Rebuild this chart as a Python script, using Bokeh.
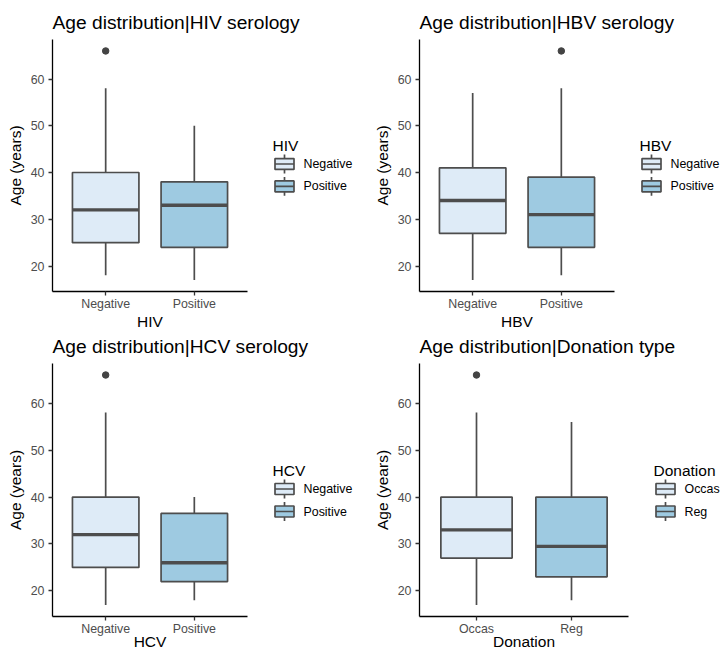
from bokeh.plotting import figure
from bokeh.layouts import column, row
from bokeh.models import Range1d, FixedTicker, Title
from bokeh.core.properties import value
from bokeh.embed import file_html
from bokeh.resources import INLINE

# ---------------- data ----------------
hiv_cats = ["Negative", "Positive"]
hiv_low = [18, 17]
hiv_q1 = [25, 24]
hiv_med = [32, 33]
hiv_q3 = [40, 38]
hiv_high = [58, 50]
hiv_out = [[66], []]

hbv_cats = ["Negative", "Positive"]
hbv_low = [17, 18]
hbv_q1 = [27, 24]
hbv_med = [34, 31]
hbv_q3 = [41, 39]
hbv_high = [57, 58]
hbv_out = [[], [66]]

hcv_cats = ["Negative", "Positive"]
hcv_low = [17, 18]
hcv_q1 = [25, 22]
hcv_med = [32, 26]
hcv_q3 = [40, 36.5]
hcv_high = [58, 40]
hcv_out = [[66], []]

don_cats = ["Occas", "Reg"]
don_low = [17, 18]
don_q1 = [27, 23]
don_med = [33, 29.5]
don_q3 = [40, 40]
don_high = [58, 56]
don_out = [[66], []]

y_ticks = [20, 30, 40, 50, 60]
y_min, y_max = 14.55, 68.45
x_min, x_max = 0.4, 2.6

FILLS = ["#DEEBF7", "#9ECAE1"]
OUT = "#4d4d4d"
LW = 1.7
FONT = "Liberation Sans"

# Arial / Liberation Sans advance widths (per 1000 em) for centring the x titles
_W = {"H": 722, "I": 278, "V": 667, "B": 667, "C": 722, "D": 722, "o": 556,
      "n": 556, "a": 556, "t": 278, "i": 222}


def text_w(s, size):
    return sum(_W.get(ch, 556) for ch in s) / 1000.0 * size


def make_panel(title, var, cats, low, q1, med, q3, high, outs,
               W, H, bl, bt, bb, data_w, xt_standoff):
    fw = W - bl
    fh = H - bt - bb
    sx = (x_max - x_min) / data_w
    sy = (y_max - y_min) / fh
    x_end = x_min + fw * sx

    p = figure(width=W, height=H, output_backend="svg", toolbar_location=None,
               x_range=Range1d(x_min, x_end), y_range=Range1d(y_min, y_max),
               min_border_left=bl, min_border_right=0,
               min_border_top=bt, min_border_bottom=bb)
    p.outline_line_color = None
    p.xgrid.visible = False
    p.ygrid.visible = False
    p.background_fill_color = "white"
    p.border_fill_color = "white"

    # plot title
    p.title.text = title
    p.title.text_font = FONT
    p.title.text_font_size = "19.2px"
    p.title.text_font_style = "normal"
    p.title.text_color = "black"
    p.title.align = "left"
    p.title.vertical_align = "top"
    p.title.text_baseline = "top"
    p.title.standoff = 9
    p.title.offset = 0

    xs = [i + 1 for i in range(len(cats))]
    hw = 0.375
    # whiskers
    p.segment(x0=xs, y0=q3, x1=xs, y1=high, line_color=OUT, line_width=LW)
    p.segment(x0=xs, y0=low, x1=xs, y1=q1, line_color=OUT, line_width=LW)
    # boxes
    p.vbar(x=xs, bottom=q1, top=q3, width=2 * hw, fill_color=FILLS,
           line_color=OUT, line_width=LW)
    # medians
    p.segment(x0=[x - hw for x in xs], y0=med, x1=[x + hw for x in xs], y1=med,
              line_color=OUT, line_width=2 * LW)
    # outliers
    ox, oy = [], []
    for x, vals in zip(xs, outs):
        for v in vals:
            ox.append(x)
            oy.append(v)
    if ox:
        p.scatter(x=ox, y=oy, size=6.5, color="#444444")

    # axes
    xa = p.xaxis[0]
    ya = p.yaxis[0]
    xa.ticker = FixedTicker(ticks=xs)
    xa.major_label_overrides = {x: c for x, c in zip(xs, cats)}
    xa.bounds = (x_min, x_max)
    ya.ticker = FixedTicker(ticks=y_ticks)
    for ax in (xa, ya):
        ax.axis_line_color = "black"
        ax.axis_line_width = 1.3
        ax.major_tick_line_color = "#333333"
        ax.major_tick_line_width = 1.3
        ax.major_tick_in = 0
        ax.major_tick_out = 4
        ax.minor_tick_line_color = None
        ax.major_label_text_font = FONT
        ax.major_label_text_font_size = "12.4px"
        ax.major_label_text_color = "#4D4D4D"
    xa.major_label_standoff = 1
    ya.major_label_standoff = 4
    ya.axis_label = "Age (years)"
    ya.axis_label_text_font = FONT
    ya.axis_label_text_font_size = "15.5px"
    ya.axis_label_text_font_style = "normal"
    ya.axis_label_text_color = "black"
    ya.axis_label_standoff = 4

    # x axis title, centred under the data area
    xt = Title(text=var, text_font=FONT, text_font_size="15.5px",
               text_font_style="normal", text_color="black",
               align="left", vertical_align="top", text_baseline="top",
               offset=data_w / 2 - text_w(var, 15.5) / 2, standoff=xt_standoff)
    p.add_layout(xt, "below")

    # legend (drawn with glyphs in the free part of the frame)
    n = len(cats)
    p.text(x=[x_max + 25 * sx], y=[y_max - 106.5 * sy], text=[var],
           text_font=value(FONT), text_font_size=value("15.5px"),
           text_color="black", text_align="left", text_baseline="alphabetic")
    kcx = x_max + 37 * sx
    cys = [y_max - (125.5 + 22.5 * i) * sy for i in range(n)]
    kx = [kcx] * n
    p.segment(x0=kx, y0=[c + 5.5 * sy for c in cys], x1=kx, y1=[c + 9.5 * sy for c in cys],
              line_color=OUT, line_width=LW)
    p.segment(x0=kx, y0=[c - 5.5 * sy for c in cys], x1=kx, y1=[c - 9.5 * sy for c in cys],
              line_color=OUT, line_width=LW)
    p.quad(left=[kcx - 9.5 * sx] * n, right=[kcx + 9.5 * sx] * n,
           bottom=[c - 5.5 * sy for c in cys], top=[c + 5.5 * sy for c in cys],
           fill_color=FILLS[:n], line_color=OUT, line_width=LW)
    p.segment(x0=[kcx - 9.5 * sx] * n, y0=cys, x1=[kcx + 9.5 * sx] * n, y1=cys,
              line_color=OUT, line_width=LW)
    p.text(x=[x_max + 56 * sx] * n, y=cys, text=cats,
           text_font=value(FONT), text_font_size=value("12.4px"),
           text_color="black", text_align="left", text_baseline="middle")
    return p


p1 = make_panel("Age distribution|HIV serology", "HIV", hiv_cats, hiv_low, hiv_q1,
                hiv_med, hiv_q3, hiv_high, hiv_out, 362, 330, 52, 39, 37, 195, -2)
p2 = make_panel("Age distribution|HBV serology", "HBV", hbv_cats, hbv_low, hbv_q1,
                hbv_med, hbv_q3, hbv_high, hbv_out, 361, 330, 57, 39, 37, 195, -2)
p3 = make_panel("Age distribution|HCV serology", "HCV", hcv_cats, hcv_low, hcv_q1,
                hcv_med, hcv_q3, hcv_high, hcv_out, 362, 318, 52, 33, 32, 195, -12)
p4 = make_panel("Age distribution|Donation type", "Donation", don_cats, don_low, don_q1,
                don_med, don_q3, don_high, don_out, 361, 318, 57, 33, 32, 209, -12)

layout = column(row(p1, p2), row(p3, p4))
open("out.html", "w").write(file_html(layout, INLINE))
